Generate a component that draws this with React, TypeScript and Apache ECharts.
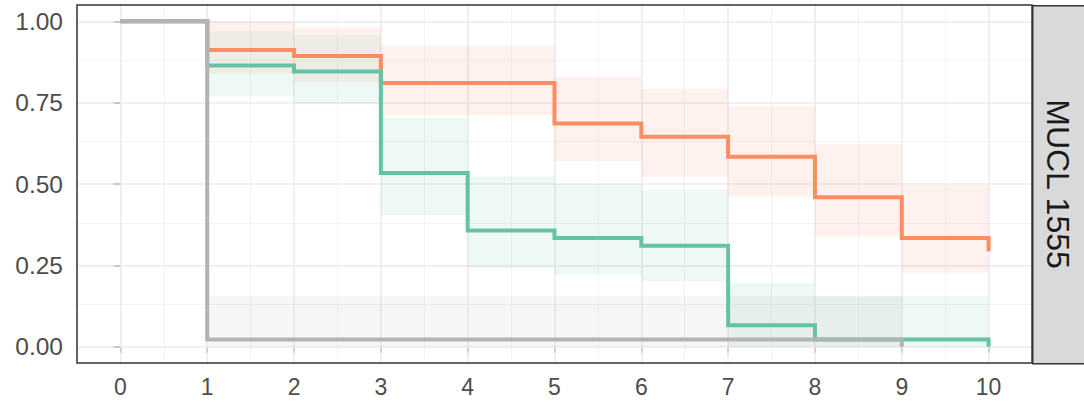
import React, { useEffect, useRef } from "react";
import * as echarts from "echarts";

// Kaplan–Meier survival estimates per day
const days = [0, 1, 2, 3, 4, 5, 6, 7, 8, 9, 10];
const survivalOrange = [1, 0.912, 0.893, 0.81, 0.81, 0.686, 0.645, 0.584, 0.459, 0.334, 0.293];
const survivalGreen = [1, 0.864, 0.846, 0.534, 0.357, 0.334, 0.31, 0.066, 0.022, 0.022, 0.0];
const grayDays = [0, 1, 9];
const survivalGray = [1, 0.022, 0.0];

// Confidence bands: [start, end, lower, upper]
const orangeBandStart = [1, 2, 3, 5, 6, 7, 8, 9];
const orangeBandEnd = [2, 3, 5, 6, 7, 8, 9, 10];
const orangeBandLower = [0.839, 0.813, 0.711, 0.57, 0.522, 0.461, 0.339, 0.227];
const orangeBandUpper = [1.0, 0.982, 0.926, 0.829, 0.793, 0.74, 0.623, 0.497];

const greenBandStart = [1, 2, 3, 4, 5, 6, 7, 8, 9];
const greenBandEnd = [2, 3, 4, 5, 6, 7, 8, 9, 10];
const greenBandLower = [0.77, 0.747, 0.405, 0.242, 0.221, 0.201, 0.0, 0.0, 0.0];
const greenBandUpper = [0.969, 0.956, 0.703, 0.524, 0.5, 0.482, 0.196, 0.155, 0.155];

const grayBandStart = [1];
const grayBandEnd = [9];
const grayBandLower = [0.0];
const grayBandUpper = [0.155];

const xTicks = [0, 1, 2, 3, 4, 5, 6, 7, 8, 9, 10];
const xMinor = [0.5, 1.5, 2.5, 3.5, 4.5, 5.5, 6.5, 7.5, 8.5, 9.5];
const yTicks = [0, 0.25, 0.5, 0.75, 1];
const yMinor = [0.125, 0.375, 0.625, 0.875];
const stripLabel = "MUCL 1555";

const ORANGE = "#FC8D62";
const GREEN = "#66C2A5";
const GRAY = "#B3B3B3";

const FONT = "'Liberation Sans', Arial, sans-serif";

function pairs(xs: number[], ys: number[]) {
  return xs.map((x, i) => [x, ys[i]]);
}

function bandRows(s: number[], e: number[], lo: number[], hi: number[]) {
  return s.map((v, i) => [v, e[i], lo[i], hi[i]]);
}

function bandSeries(name: string, rows: number[][], fill: string) {
  return {
    name,
    type: "custom",
    z: 3,
    silent: true,
    data: rows,
    encode: { x: [0, 1], y: [2, 3] },
    renderItem: (_params: any, api: any) => {
      const a = api.coord([api.value(0), api.value(3)]);
      const b = api.coord([api.value(1), api.value(2)]);
      return {
        type: "rect",
        shape: { x: a[0], y: a[1], width: b[0] - a[0], height: b[1] - a[1] },
        style: { fill },
      };
    },
  };
}

// Survival curve drawn as one stepped polyline (value holds until the next time point)
function stepSeries(name: string, data: number[][], color: string) {
  return {
    name,
    type: "custom",
    z: 6,
    silent: true,
    data,
    encode: { x: 0, y: 1 },
    renderItem: (params: any, api: any) => {
      if (params.dataIndex !== 0) return null;
      const pts: number[][] = [];
      for (let i = 0; i < data.length; i++) {
        const p = api.coord(data[i]);
        if (i > 0) {
          const prev = pts[pts.length - 1];
          pts.push([p[0], prev[1]]);
        }
        pts.push(p);
      }
      return {
        type: "polyline",
        shape: { points: pts },
        style: { stroke: color, lineWidth: 4, fill: "none", lineJoin: "miter", lineCap: "butt" },
      };
    },
  };
}

// Background grid lines, kept beneath the bands and curves
function gridSeries(name: string, xs: number[], ys: number[], color: string, width: number) {
  return {
    name,
    type: "line",
    z: 1,
    data: [],
    silent: true,
    markLine: {
      z: 1,
      silent: true,
      symbol: ["none", "none"],
      label: { show: false },
      animation: false,
      lineStyle: { color, width, type: "solid" },
      emphasis: { disabled: true },
      data: [...xs.map((v) => ({ xAxis: v })), ...ys.map((v) => ({ yAxis: v }))],
    },
  };
}

export default function App() {
  const ref = useRef<HTMLDivElement>(null);

  useEffect(() => {
    if (!ref.current) return;
    const chart = echarts.init(ref.current, undefined, { renderer: "svg" });
    const left = 77;
    const top = 5;
    const right = 52;
    const bottom = 40;
    chart.setOption({
      animation: false,
      backgroundColor: "#FFFFFF",
      grid: {
        left,
        top,
        right,
        bottom,
        show: true,
        z: 8,
        borderColor: "#333333",
        borderWidth: 1.5,
        backgroundColor: "transparent",
      },
      xAxis: {
        type: "value",
        min: -0.5,
        max: 10.5,
        axisLine: { show: false },
        splitLine: { show: false },
        axisTick: {
          show: true,
          length: 6,
          customValues: xTicks,
          lineStyle: { color: "#333333", width: 1.5 },
        },
        axisLabel: {
          customValues: xTicks,
          margin: 12,
          color: "#4D4D4D",
          fontSize: 23,
          fontFamily: FONT,
        },
      },
      yAxis: {
        type: "value",
        min: -0.05,
        max: 1.05,
        axisLine: { show: false },
        splitLine: { show: false },
        axisTick: {
          show: true,
          length: 7,
          customValues: yTicks,
          lineStyle: { color: "#333333", width: 1.5 },
        },
        axisLabel: {
          customValues: yTicks,
          margin: 14,
          color: "#4D4D4D",
          fontSize: 24.5,
          fontFamily: FONT,
          formatter: (v: number) => v.toFixed(2),
        },
      },
      series: [
        gridSeries("minorGrid", xMinor, yMinor, "#F3F3F3", 1),
        gridSeries("majorGrid", xTicks, yTicks, "#EBEBEB", 1.6),
        bandSeries(
          "orangeBand",
          bandRows(orangeBandStart, orangeBandEnd, orangeBandLower, orangeBandUpper),
          "rgba(252,141,98,0.11)"
        ),
        bandSeries(
          "greenBand",
          bandRows(greenBandStart, greenBandEnd, greenBandLower, greenBandUpper),
          "rgba(102,194,165,0.11)"
        ),
        bandSeries(
          "grayBand",
          bandRows(grayBandStart, grayBandEnd, grayBandLower, grayBandUpper),
          "rgba(179,179,179,0.12)"
        ),
        stepSeries("orange", pairs(days, survivalOrange), ORANGE),
        stepSeries("green", pairs(days, survivalGreen), GREEN),
        stepSeries("gray", pairs(grayDays, survivalGray), GRAY),
      ],
      graphic: [
        {
          type: "rect",
          left: 1084 - right,
          top,
          shape: { x: 0, y: 0, width: 70, height: 403 - top - bottom },
          style: { fill: "#D9D9D9", stroke: "#333333", lineWidth: 1.5 },
          silent: true,
          z: 10,
        },
        {
          type: "text",
          x: 1084 - right + 26,
          y: top + (403 - top - bottom) / 2,
          rotation: -Math.PI / 2,
          style: {
            text: stripLabel,
            fill: "#1A1A1A",
            fontSize: 32,
            fontFamily: FONT,
            align: "center",
            verticalAlign: "middle",
          },
          silent: true,
          z: 11,
        },
      ],
    });
    return () => chart.dispose();
  }, []);

  return (
    <div
      ref={ref}
      style={{ position: "absolute", left: 0, top: 0, width: 1084, height: 403 }}
    />
  );
}
